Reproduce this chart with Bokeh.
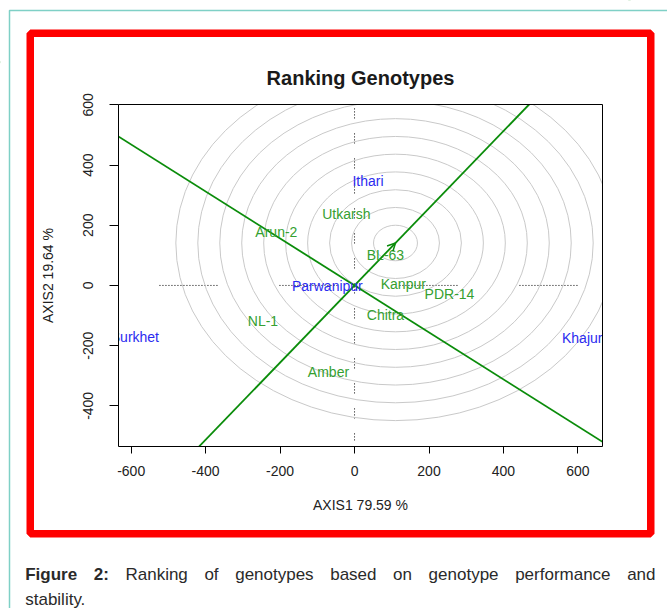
from bokeh.plotting import figure
from bokeh.models import (Range1d, FixedTicker, LinearAxis, Arrow, OpenHead,
                          ColumnDataSource)
from bokeh.embed import file_html
from bokeh.resources import INLINE
from bokeh.core.properties import value

# ---------------- data ----------------
genotypes = ["Utkarsh", "Arun-2", "BL-63", "Kanpur", "PDR-14", "Chitra", "NL-1", "Amber"]
geno_x = [-22, -210, 83, 131, 255, 83, -246, -70]
geno_y = [236, 177, 102, 5, -30, -97, -117, -288]

environments = ["Ithari", "Parwanipur", "Surkhet", "Khajura"]
env_x = [36, -73, -590, 622]
env_y = [346, -1, -172, -174]

# average-environment (ideal) point and concentric ring radii
aec_x = 110
aec_y = 141
ring_radii = [59, 118, 177, 236, 295, 354, 413, 472, 531, 590]

# extents of the dotted reference lines through the origin
h_ref_x = [-524, 612]
v_ref_y = [588, -516]

# plotting box (data limits)
x_min, x_max = -634, 666
y_min, y_max = -535, 601

x_ticks = [-600, -400, -200, 0, 200, 400, 600]
y_ticks = [-400, -200, 0, 200, 400, 600]

title_text = "Ranking Genotypes"
x_label = "AXIS1 79.59 %"
y_label = "AXIS2 19.64 %"

caption_words = ["Figure", "2:", "Ranking", "of", "genotypes", "based", "on",
                 "genotype", "performance", "and"]
caption_bold = [True, True, False, False, False, False, False, False, False, False]
caption_line2 = "stability."

# ---------------- layout constants (page pixels) ----------------
W, H = 667, 608
BL, BT, BR, BB = 118, 104, 602, 446   # plotting box edges in px

kx = (BR - BL) / (x_max - x_min)      # px per data unit
ky = (BB - BT) / (y_max - y_min)
X0 = x_min - BL / kx                  # data x at canvas left
X1 = x_max + (W - BR) / kx
Y0 = y_max + BT / ky                  # data y at canvas top
Y1 = y_min - (H - BB) / ky


def dx(px):
    return X0 + px / kx


def dy(py):
    return Y0 - py / ky


GREEN_LINE = "#0a8c0a"
GREEN_TEXT = "#35a030"
BLUE_TEXT = "#2b2bf0"
RING = "#c9c9c9"
FONT = "Liberation Sans"

p = figure(width=W, height=H, output_backend="svg", toolbar_location=None,
           title=None, x_axis_location=None, y_axis_location=None,
           x_range=Range1d(X0, X1), y_range=Range1d(Y1, Y0),
           min_border=0, min_border_left=0, min_border_right=0,
           min_border_top=0, min_border_bottom=0,
           background_fill_color="white", border_fill_color="white")
p.outline_line_color = None
p.grid.visible = False

# axes fixed to the plotting box
xaxis = LinearAxis(fixed_location=y_min, bounds=(x_min, x_max))
yaxis = LinearAxis(fixed_location=x_min, bounds=(y_min, y_max))
p.add_layout(xaxis, "below")
p.add_layout(yaxis, "left")
xaxis.ticker = FixedTicker(ticks=x_ticks)
yaxis.ticker = FixedTicker(ticks=y_ticks)
xaxis.major_label_overrides = {t: str(t) for t in x_ticks}
yaxis.major_label_overrides = {t: str(t) for t in y_ticks}
for ax in (xaxis, yaxis):
    ax.minor_tick_line_color = None
    ax.major_tick_in = 0
    ax.axis_line_color = None
    ax.major_tick_line_color = "black"
    ax.major_label_text_font = FONT
    ax.major_label_text_font_size = "14px"
    ax.major_label_text_color = "#222222"
    ax.axis_label_text_font = FONT
    ax.axis_label_text_font_size = "14px"
    ax.axis_label_text_font_style = "normal"
    ax.axis_label_text_color = "#222222"
xaxis.major_tick_out = 7
yaxis.major_tick_out = 9
xaxis.major_label_standoff = 12
yaxis.major_label_standoff = 16
yaxis.major_label_orientation = "vertical"
xaxis.axis_label = x_label
yaxis.axis_label = y_label
xaxis.axis_label_standoff = 18
yaxis.axis_label_standoff = 25

# dotted reference lines
p.line(x=h_ref_x, y=[0, 0], line_color="black", line_width=1,
       line_dash=" ".join(["1 2"] * 19) + " 1 62")
p.line(x=[0, 0], y=v_ref_y, line_color="black", line_width=1,
       line_dash="1 2 1 2 1 2 1 15")

# concentric rings around the ideal point
n = len(ring_radii)
p.ellipse(x=[aec_x] * n, y=[aec_y] * n,
          width=[2 * r for r in ring_radii], height=[2 * r for r in ring_radii],
          fill_color=None, line_color=RING, line_width=1)

# average environment axis and its perpendicular through the origin
slope = aec_y / aec_x
xs_ext = [-1000, 1000]
p.line(x=xs_ext, y=[slope * v for v in xs_ext], line_color=GREEN_LINE, line_width=1.8)
p.line(x=xs_ext, y=[-v / slope for v in xs_ext], line_color=GREEN_LINE, line_width=1.8)

p.add_layout(Arrow(end=OpenHead(size=8, line_color=GREEN_LINE, line_width=1.5),
                   x_start=0, y_start=0, x_end=aec_x, y_end=aec_y,
                   line_color=GREEN_LINE, line_width=0, line_alpha=0))

# labels
gsrc = ColumnDataSource(dict(x=geno_x, y=geno_y, t=genotypes))
esrc = ColumnDataSource(dict(x=env_x, y=env_y, t=environments))
p.text(x="x", y="y", text="t", source=gsrc, text_font=value(FONT),
       text_font_size="14px", text_color=GREEN_TEXT, text_align="center",
       text_baseline="middle")
p.text(x="x", y="y", text="t", source=esrc, text_font=value(FONT),
       text_font_size="14px", text_color=BLUE_TEXT, text_align="center",
       text_baseline="middle")

# white masks outside the plotting box (clip)
p.quad(left=[X0 - 50, x_max, X0 - 50, X0 - 50],
       right=[x_min, X1 + 50, X1 + 50, X1 + 50],
       bottom=[Y1 - 50, Y1 - 50, y_max, Y1 - 50],
       top=[Y0 + 50, Y0 + 50, Y0 + 50, y_min],
       fill_color="white", line_color=None)

# box round the plotting region
p.quad(left=[x_min], right=[x_max], bottom=[y_min], top=[y_max],
       fill_color=None, line_color="black", line_width=1)

# title
p.text(x=[dx(360)], y=[dy(77.5)], text=[title_text], text_font=value(FONT),
       text_font_size="20px", text_font_style="bold", text_color="#1a1a1a",
       text_align="center", text_baseline="alphabetic")

# outer teal border and red frame
p.quad(left=[dx(9)], right=[dx(W + 40)], top=[dy(10)], bottom=[dy(H + 40)],
       fill_color=None, line_color="#7fd0c6", line_width=1.5)
p.quad(left=[dx(29.75)], right=[dx(650.25)], top=[dy(32.75)], bottom=[dy(533.25)],
       fill_color=None, line_color="#ff0000", line_width=7.5)

# caption (justified first line)
REG = {'a': 556, 'b': 556, 'c': 500, 'd': 556, 'e': 556, 'f': 278, 'g': 556, 'h': 556,
       'i': 222, 'k': 500, 'l': 222, 'm': 833, 'n': 556, 'o': 556, 'p': 556, 'r': 333,
       's': 500, 't': 278, 'u': 556, 'y': 500, 'R': 722, '.': 278, ':': 278}
BOLD = {'F': 611, 'i': 278, 'g': 611, 'u': 611, 'r': 389, 'e': 556, '2': 556, ':': 333}
CAP_SIZE = 17


def word_w(w, bold):
    tab = BOLD if bold else REG
    return sum(tab.get(c, 556) for c in w) / 1000 * CAP_SIZE


cap_left, cap_right = 24.7, 655.0
widths = [word_w(w, b) for w, b in zip(caption_words, caption_bold)]
gap = (cap_right - cap_left - sum(widths)) / (len(caption_words) - 1)
bx, bt, rx, rt = [], [], [], []
cx = cap_left
for w, b, ww in zip(caption_words, caption_bold, widths):
    if b:
        bx.append(dx(cx)); bt.append(w)
    else:
        rx.append(dx(cx)); rt.append(w)
    cx += ww + gap
rx.append(dx(cap_left)); rt.append(caption_line2)
ry = [dy(574)] * (len(rt) - 1) + [dy(599)]

p.text(x=bx, y=[dy(574)] * len(bx), text=bt, text_font=value(FONT),
       text_font_size=f"{CAP_SIZE}px", text_font_style="bold", text_color="#2a2a2a",
       text_align="left", text_baseline="alphabetic")
p.text(x=rx, y=ry, text=rt, text_font=value(FONT),
       text_font_size=f"{CAP_SIZE}px", text_color="#2a2a2a",
       text_align="left", text_baseline="alphabetic")

open("out.html", "w").write(file_html(p, INLINE))
